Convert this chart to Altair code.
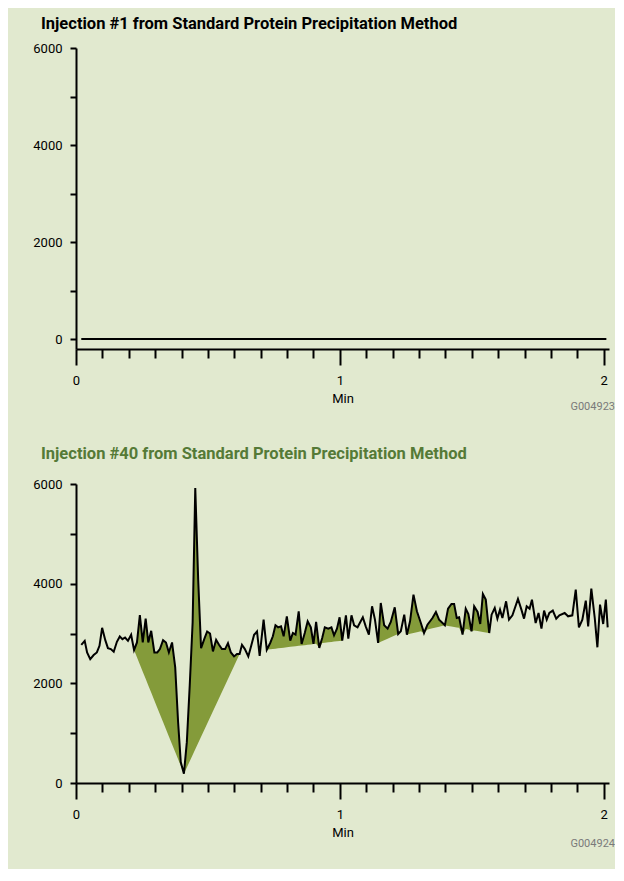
import altair as alt
import pandas as pd
import numpy as np

# ---------------- data ----------------
# Injection #1: flat trace at zero
inj1_time = [0.02, 2.01]
inj1_signal = [0, 0]

# Injection #40 trace (min, counts)
time_min = [
    0.020, 0.033, 0.042, 0.054, 0.067, 0.079, 0.089, 0.099, 0.111, 0.121,
    0.132, 0.143, 0.155, 0.166, 0.176, 0.186, 0.197, 0.209, 0.220, 0.231,
    0.242, 0.253, 0.264, 0.274, 0.285, 0.297, 0.308, 0.318, 0.330, 0.341,
    0.352, 0.364, 0.376, 0.387, 0.397, 0.409, 0.420, 0.431, 0.442, 0.452,
    0.463, 0.474, 0.486, 0.497, 0.508, 0.519, 0.531, 0.542, 0.553, 0.565,
    0.576, 0.587, 0.599, 0.610, 0.620, 0.629, 0.640, 0.653, 0.664, 0.675,
    0.686, 0.696, 0.711, 0.723, 0.736, 0.746, 0.756, 0.766, 0.777, 0.787,
    0.799, 0.812, 0.822, 0.832, 0.844, 0.855, 0.867, 0.878, 0.890, 0.900,
    0.910, 0.922, 0.933, 0.943, 0.956, 0.968, 0.978, 0.989, 0.999, 1.009,
    1.023, 1.032, 1.044, 1.054, 1.067, 1.087, 1.098, 1.110, 1.122, 1.133,
    1.145, 1.155, 1.168, 1.181, 1.193, 1.208, 1.221, 1.231, 1.244, 1.254,
    1.266, 1.279, 1.292, 1.307, 1.319, 1.332, 1.351, 1.364, 1.376, 1.398,
    1.410, 1.423, 1.433, 1.443, 1.452, 1.465, 1.477, 1.487, 1.499, 1.509,
    1.522, 1.532, 1.542, 1.553, 1.566, 1.575, 1.587, 1.597, 1.607, 1.616,
    1.630, 1.641, 1.654, 1.675, 1.688, 1.698, 1.708, 1.719, 1.728, 1.742,
    1.753, 1.764, 1.774, 1.784, 1.794, 1.807, 1.820, 1.832, 1.852, 1.865,
    1.881, 1.894, 1.906, 1.919, 1.932, 1.941, 1.953, 1.966, 1.976, 1.986,
    1.998, 2.008, 2.015,
]
signal = [
    2773, 2853, 2620, 2487, 2567, 2620, 2753, 3113, 2867, 2707,
    2687, 2633, 2833, 2940, 2887, 2920, 2853, 2973, 2667, 2820,
    3367, 2820, 3300, 2820, 3053, 2620, 2620, 2687, 2867, 2820,
    2620, 2820, 2320, 1220, 420, 187, 820, 1953, 3220, 5920,
    4087, 2707, 2887, 3040, 3000, 2640, 2873, 2773, 2687, 2687,
    2807, 2620, 2540, 2587, 2587, 2773, 2687, 2540, 2753, 2973,
    3040, 2553, 3278, 2675, 2810, 2944, 3164, 3124, 3144, 2944,
    3345, 2857, 3010, 2977, 3446, 2790, 3010, 3245, 3124, 2790,
    3231, 2709, 2910, 3124, 3097, 3124, 2964, 3097, 3325, 2857,
    3365, 2897, 3365, 3164, 3124, 3325, 3144, 2977, 3546, 3278,
    2810, 3613, 3164, 3097, 3231, 3526, 2990, 3044, 3378, 2977,
    3245, 3780, 3446, 3211, 3010, 3177, 3311, 3432, 3278, 3164,
    3499, 3593, 3593, 3311, 3325, 2977, 3499, 3392, 3044, 3546,
    3432, 3191, 3793, 3679, 3010, 3378, 3512, 3298, 3479, 3311,
    3646, 3278, 3365, 3693, 3479, 3298, 3546, 3499, 3679, 3211,
    3412, 3097, 3459, 3278, 3412, 3459, 3298, 3365, 3412, 3345,
    3365, 3880, 3124, 3278, 3659, 3144, 3900, 3311, 2723, 3579,
    3191, 3679, 3124,
]

# integrated peaks (start / end times, baseline drawn between them)
peak_start = [0.220, 0.409, 0.723, 1.145, 1.254, 1.398]
peak_end = [0.409, 0.620, 1.009, 1.221, 1.398, 1.566]

x_tick_values = [0.0, 0.1, 0.2, 0.3, 0.4, 0.5, 0.6, 0.7, 0.8, 0.9, 1.0,
                 1.1, 1.2, 1.3, 1.4, 1.5, 1.6, 1.7, 1.8, 1.9, 2.0]
y_tick_values = [0, 1000, 2000, 3000, 4000, 5000, 6000]

titles = ["Injection #1 from Standard Protein Precipitation Method",
          "Injection #40 from Standard Protein Precipitation Method"]
figure_ids = ["G004923", "G004924"]

# ---------------- build tables ----------------
df1 = pd.DataFrame({"t": inj1_time, "v": inj1_signal})
df40 = pd.DataFrame({"t": time_min, "v": signal})

parts = []
for i, (s, e) in enumerate(zip(peak_start, peak_end)):
    seg = df40[(df40.t >= s - 1e-9) & (df40.t <= e + 1e-9)].copy()
    vs = seg.v.iloc[0]
    ve = seg.v.iloc[-1]
    seg["base"] = vs + (seg.t - s) / (e - s) * (ve - vs)
    seg["low"] = np.minimum(seg["base"], seg["v"])
    seg["peak"] = i
    parts.append(seg)
df_area = pd.concat(parts, ignore_index=True)

# ---------------- style ----------------
FONT = "Roboto, Liberation Sans, sans-serif"
GREEN = "#849b3a"
BG = "#e1e9cf"
W = 533
XDOM = [0, 2.02]

is_int = "abs(datum.value - round(datum.value)) < 0.001"

x_axis = alt.Axis(
    values=x_tick_values,
    title="Min",
    labelExpr=f"{is_int} ? format(datum.value, 'd') : ''",
    tickSize={"condition": {"test": is_int, "value": 16}, "value": 9},
    tickWidth=2, tickColor="black",
    domainWidth=2, domainColor="black",
    labelFont=FONT, labelFontSize=13, labelColor="black", labelPadding=9,
    labelOverlap=False, labelFlush=False,
    titleFont=FONT, titleFontSize=13, titleFontWeight="normal",
    titleColor="black", titlePadding=5,
    grid=False,
)

y_axis = alt.Axis(
    values=y_tick_values,
    title=None,
    format="d",
    labelExpr="datum.value % 2000 === 0 ? datum.label : ''",
    tickSize=6, tickWidth=2, tickColor="black",
    domainWidth=2, domainColor="black",
    labelFont=FONT, labelFontSize=13, labelColor="black", labelPadding=8,
    labelOverlap=False,
    grid=False,
)


def panel(df_line, ydom, height, title, title_color, title_offset, fig_id, fig_dy, area=None):
    xs = alt.X("t:Q", scale=alt.Scale(domain=XDOM, nice=False, zero=False), axis=x_axis)
    ys = alt.Y("v:Q", scale=alt.Scale(domain=ydom, nice=False, zero=False), axis=y_axis)
    layers = []
    if area is not None:
        layers.append(
            alt.Chart(area).mark_area(color=GREEN, opacity=1, interpolate="linear").encode(
                x=xs, y=ys, y2="low:Q", detail="peak:N"
            )
        )
    layers.append(
        alt.Chart(df_line).mark_line(color="black", strokeWidth=2, clip=True).encode(x=xs, y=ys)
    )
    layers.append(
        alt.Chart(pd.DataFrame({"label": [fig_id]})).mark_text(
            font=FONT, fontSize=11, color="#7a7a7a", align="right", baseline="middle"
        ).encode(text="label:N", x=alt.value(W + 6), y=alt.value(height + fig_dy))
    )
    return alt.layer(*layers).properties(
        width=W, height=height,
        title=alt.TitleParams(
            text=title, anchor="start", frame="group", dx=-35, font=FONT, fontSize=16.5,
            fontWeight="bold", color=title_color, offset=title_offset,
        ),
    )


top = panel(df1, [-206, 6000], 301, titles[0], "black", 10, figure_ids[0], 58)
bottom = panel(df40, [0, 6000], 299, titles[1], "#557a37", 16, figure_ids[1], 61, area=df_area)

chart = alt.vconcat(top, bottom, spacing=33).properties(
    background=BG,
    padding={"left": 24, "top": 7, "right": 0, "bottom": 20},
).configure_view(strokeWidth=0)

chart.save("out.html", embed_options={"renderer": "svg", "actions": False})
